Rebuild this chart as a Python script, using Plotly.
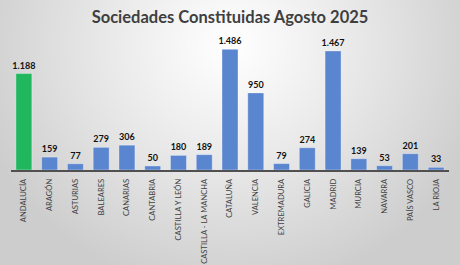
import base64, struct, zlib
import numpy as np
import plotly.graph_objects as go

categories = ["ANDALUCÍA", "ARAGÓN", "ASTURIAS", "BALEARES", "CANARIAS", "CANTABRIA",
              "CASTILLA Y LEÓN", "CASTILLA - LA MANCHA", "CATALUÑA", "VALENCIA",
              "EXTREMADURA", "GALICIA", "MADRID", "MURCIA", "NAVARRA", "PAÍS VASCO",
              "LA RIOJA"]
values = [1188, 159, 77, 279, 306, 50, 180, 189, 1486, 950, 79, 274, 1467, 139, 53, 201, 33]
highlight = "ANDALUCÍA"

W, H = 460, 265
ML, MR, MT, MB = 11, 11, 32, 95

# radial grey background gradient (style only)
yy, xx = np.mgrid[0:H, 0:W].astype(float)
d = np.sqrt(((xx - 230) / 265) ** 2 + ((yy - 45) / 250) ** 2)
d = np.clip(d, 0, 1)
g = (255 - 50 * d ** 1.1).astype(np.uint8)
img = np.dstack([g, g, g])

def png_uri(a):
    h, w, _ = a.shape
    raw = b"".join(b"\x00" + a[i].tobytes() for i in range(h))
    def chunk(t, data):
        c = struct.pack(">I", len(data)) + t + data
        return c + struct.pack(">I", zlib.crc32(t + data) & 0xffffffff)
    png = b"\x89PNG\r\n\x1a\n" + chunk(b"IHDR", struct.pack(">IIBBBBB", w, h, 8, 2, 0, 0, 0))
    png += chunk(b"IDAT", zlib.compress(raw, 9)) + chunk(b"IEND", b"")
    return "data:image/png;base64," + base64.b64encode(png).decode()

pw, ph = W - ML - MR, H - MT - MB
colors = ["#21B75E" if c == highlight else "#5A85CF" for c in categories]

fig = go.Figure(go.Bar(
    x=categories, y=values,
    marker=dict(color=colors, line=dict(color="rgba(255,255,255,0.35)", width=1)),
    texttemplate="<b>%{y:,}</b>", textposition="outside", constraintext="none",
    textfont=dict(family="Lato", size=9, color="#111111"),
    cliponaxis=False,
))

fig.update_layout(
    width=W, height=H,
    margin=dict(l=ML, r=MR, t=MT, b=MB, pad=0, autoexpand=False),
    separators=",.",
    paper_bgcolor="#e6e6e6", plot_bgcolor="rgba(0,0,0,0)",
    bargap=0.38,
    showlegend=False,
    title=dict(text="<b>Sociedades Constituidas Agosto 2025</b>", x=0.5, xanchor="center",
               y=1 - 17 / H, yanchor="middle",
               font=dict(family="Lato", size=16.5, color="#3f3f3f")),
    images=[dict(source=png_uri(img), xref="paper", yref="paper",
                 x=-ML / pw, y=1 + MT / ph, sizex=W / pw, sizey=H / ph,
                 xanchor="left", yanchor="top", sizing="stretch", layer="below")],
    xaxis=dict(tickangle=-90, showline=True, linecolor="#505050", linewidth=1.5,
               automargin=False,
               ticks="outside", ticklen=4, tickcolor="rgba(0,0,0,0)",
               tickfont=dict(family="Lato", size=7.6, color="#404040"),
               showgrid=False, fixedrange=True),
    yaxis=dict(range=[0, 1700], visible=False, showgrid=False, fixedrange=True,
               automargin=False),
)

fig.write_html("out.html")
